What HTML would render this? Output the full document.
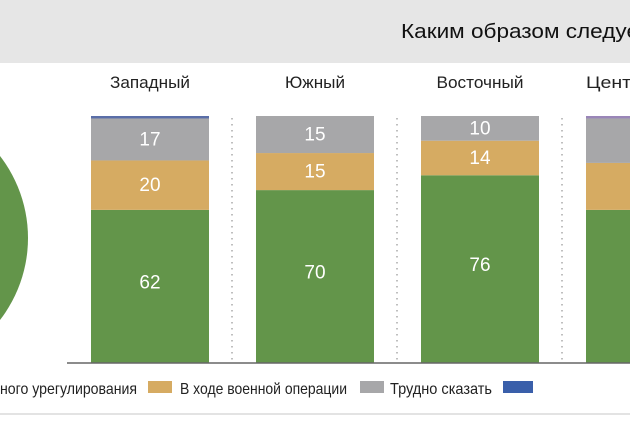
<!DOCTYPE html>
<html><head><meta charset="utf-8"><style>
body{margin:0;width:630px;height:416px;overflow:hidden;background:#fff;font-family:"Liberation Sans","Noto Sans CJK SC",sans-serif;}
</style></head><body>
<svg width="630" height="416" xmlns="http://www.w3.org/2000/svg">
<rect x="0" y="0" width="630" height="63" fill="#e6e6e6"/>
<text x="401" y="38" font-size="20" fill="#111" textLength="238" lengthAdjust="spacingAndGlyphs">Каким образом следуе</text>
<circle cx="-106" cy="238" r="134" fill="#63954a"/>
<g id="bars"></g>
<line x1="67" y1="363" x2="630" y2="363" stroke="#666" stroke-width="1.5"/>
<g>
<text x="0" y="394" font-size="16" fill="#222" textLength="137" lengthAdjust="spacingAndGlyphs">ного урегулирования</text>
<rect x="148" y="381" width="24" height="12" fill="#d6ab62"/>
<text x="180" y="394" font-size="16" fill="#222" textLength="167" lengthAdjust="spacingAndGlyphs">В ходе военной операции</text>
<rect x="360" y="381" width="24" height="12" fill="#a7a7a9"/>
<text x="390" y="394" font-size="16" fill="#222" textLength="102" lengthAdjust="spacingAndGlyphs">Трудно сказать</text>
<rect x="503" y="381" width="30" height="12" fill="#3a5faa"/>
</g>
<line x1="0" y1="414" x2="630" y2="414" stroke="#e3e3e3" stroke-width="2"/>
</svg>
<script>
const categories=["Западный","Южный","Восточный","Центр"];
const peaceVals=[62,70,76,62];
const militaryVals=[20,15,14,19];
const hardVals=[17,15,10,18];
const otherVals=[1,0,0,1];
const showLabels=[true,true,true,false];
const labelWidths=[80,60,87,56];
const NS="http://www.w3.org/2000/svg";
const g=document.getElementById('bars');
const baseY=363,pxPer=2.47,barW=118;
function xPos(i){return 91+i*165;}
function yLen(v){return v*pxPer;}
function mk(t,a){const e=document.createElementNS(NS,t);for(const k in a)e.setAttribute(k,a[k]);g.appendChild(e);return e;}
const series=[[peaceVals,"#63954a","peace"],[militaryVals,"#d6ab62","military"],[hardVals,"#a7a7a9","hard"],[otherVals,"#5a6ea8","other"]];
categories.forEach((c,i)=>{
  const x=xPos(i);
  const lx=i===categories.length-1?x+28:x+barW/2;
  const lab=mk('text',{x:lx,y:88,'font-size':17,fill:'#222','text-anchor':'middle',textLength:labelWidths[i],lengthAdjust:'spacingAndGlyphs'});
  lab.textContent=c;
  
  
  let y=baseY;
  series.forEach(([arr,col,nm],si)=>{
    const h=yLen(arr[i]);if(h<=0)return;
    y-=h;
    const r=mk('rect',{x:x,y:y,width:barW,height:h,fill:(si==3&&i==3)?'#9a86b8':col});
    
    
    if(si<3&&showLabels[i]){
      const off=si==0?2:6;
      const t=mk('text',{x:x+barW/2,y:y+h/2+off,'font-size':19,fill:'#fff','text-anchor':'middle'});
      t.textContent=arr[i];
      
      
    }
  });
  if(i<categories.length-1){
    const d=mk('line',{x1:x+barW+23,y1:118,x2:x+barW+23,y2:360,stroke:'#aaa','stroke-width':1.5,'stroke-dasharray':'1.5 4.5'});
    
    
  }
});
</script>
</body></html>
